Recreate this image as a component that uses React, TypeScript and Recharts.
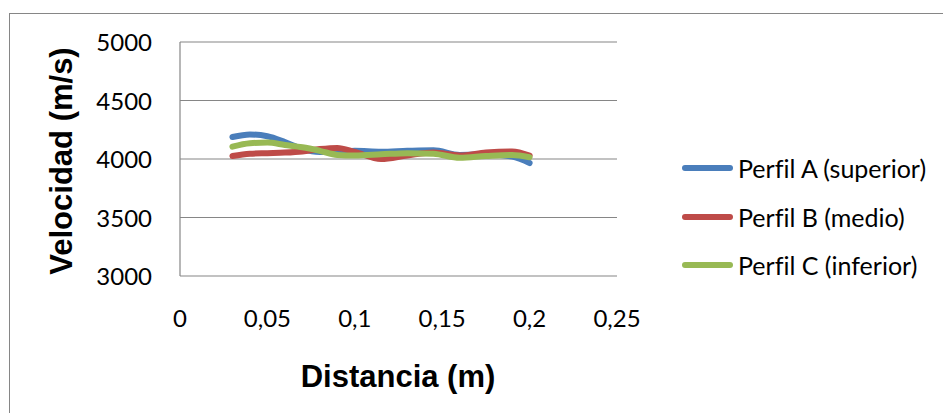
import { CartesianGrid, Legend, Line, LineChart, XAxis, YAxis } from "recharts";

// Distancia (m) medida a lo largo de cada perfil
const distancias = [0.03, 0.04, 0.05, 0.06, 0.07, 0.08, 0.09, 0.1, 0.115, 0.13, 0.145, 0.16, 0.175, 0.19, 0.2];

// Velocidad (m/s) por perfil
const perfilA = [4188, 4210, 4195, 4145, 4085, 4060, 4060, 4070, 4062, 4070, 4075, 4035, 4040, 4020, 3965];
const perfilB = [4025, 4045, 4050, 4055, 4065, 4085, 4095, 4060, 4000, 4030, 4055, 4030, 4055, 4065, 4030];
const perfilC = [4105, 4135, 4140, 4120, 4100, 4070, 4035, 4030, 4040, 4050, 4045, 4010, 4025, 4035, 4015];

const xTicks = [0, 0.05, 0.1, 0.15, 0.2, 0.25];
const yTicks = [3000, 3500, 4000, 4500, 5000];

const series = [
  { key: "a", name: "Perfil A (superior)", color: "#4A7EBB", values: perfilA },
  { key: "b", name: "Perfil B (medio)", color: "#BE4B48", values: perfilB },
  { key: "c", name: "Perfil C (inferior)", color: "#98B954", values: perfilC },
];

const data = distancias.map((x, i) => ({ x, a: perfilA[i], b: perfilB[i], c: perfilC[i] }));

const TICK_FONT = "Lato, 'Open Sans', sans-serif";
const TITLE_FONT = "'Liberation Sans', Arial, sans-serif";
const GRID = "#868686";

function XTick({ x, y, payload }: any) {
  return (
    <text x={x} y={y + 51} textAnchor="middle" fontFamily={TICK_FONT} fontSize={24} fill="#000">
      {String(payload.value).replace(".", ",")}
    </text>
  );
}

function YTick({ y, payload }: any) {
  return (
    <text x={152} y={y + 9} textAnchor="end" fontFamily={TICK_FONT} fontSize={24} fill="#000">
      {payload.value}
    </text>
  );
}

function LegendBox() {
  return (
    <div style={{ position: "relative" }}>
      {series.map((s, i) => (
        <div key={s.key} style={{ position: "absolute", left: 0, top: i * 48.5, height: 28, display: "flex", alignItems: "center" }}>
          <div style={{ width: 51, height: 6, borderRadius: 3, background: s.color, marginRight: 5 }} />
          <span
            style={{
              fontFamily: TICK_FONT,
              fontSize: 25,
              color: "#000",
              whiteSpace: "nowrap",
              fontVariantLigatures: "none",
            }}
          >
            {s.name}
          </span>
        </div>
      ))}
    </div>
  );
}

export default function App() {
  return (
    <div style={{ position: "absolute", left: 0, top: 0, width: 943, height: 413, overflow: "hidden", background: "#fff" }}>
      <div style={{ position: "absolute", left: 9, top: 13, width: 1000, height: 500, border: `1px solid ${GRID}` }} />
      <LineChart
        width={943}
        height={413}
        data={data}
        margin={{ top: 42, right: 326, left: 0, bottom: 0 }}
        style={{ position: "absolute", left: 0, top: 0 }}
      >
        <CartesianGrid vertical={false} stroke={GRID} strokeWidth={1.2} />
        <XAxis
          dataKey="x"
          type="number"
          domain={[0, 0.25]}
          ticks={xTicks}
          height={137}
          axisLine={false}
          tickLine={false}
          tickSize={0}
          tickMargin={0}
          tick={<XTick />}
          interval={0}
        />
        <YAxis
          type="number"
          domain={[3000, 5000]}
          ticks={yTicks}
          width={180}
          axisLine={{ stroke: GRID, strokeWidth: 1.2 }}
          tickLine={false}
          tickSize={0}
          tickMargin={0}
          tick={<YTick />}
          interval={0}
        />
        <Legend
          content={<LegendBox />}
          wrapperStyle={{ position: "absolute", left: 682, top: 154, width: 260 }}
        />
        {series.map(s => (
          <Line
            key={s.key}
            type="monotone"
            dataKey={s.key}
            name={s.name}
            stroke={s.color}
            strokeWidth={6}
            strokeLinecap="round"
            strokeLinejoin="round"
            dot={false}
            isAnimationActive={false}
          />
        ))}
      </LineChart>
      <div
        style={{
          position: "absolute",
          left: 62,
          top: 161,
          transform: "translate(-50%, -50%) rotate(-90deg)",
          fontFamily: TITLE_FONT,
          fontWeight: 700,
          fontSize: 31,
          whiteSpace: "nowrap",
          color: "#000",
        }}
      >
        Velocidad (m/s)
      </div>
      <div
        style={{
          position: "absolute",
          left: 398,
          top: 377,
          transform: "translate(-50%, -50%)",
          fontFamily: TITLE_FONT,
          fontWeight: 700,
          fontSize: 31,
          whiteSpace: "nowrap",
          color: "#000",
        }}
      >
        Distancia (m)
      </div>
    </div>
  );
}
